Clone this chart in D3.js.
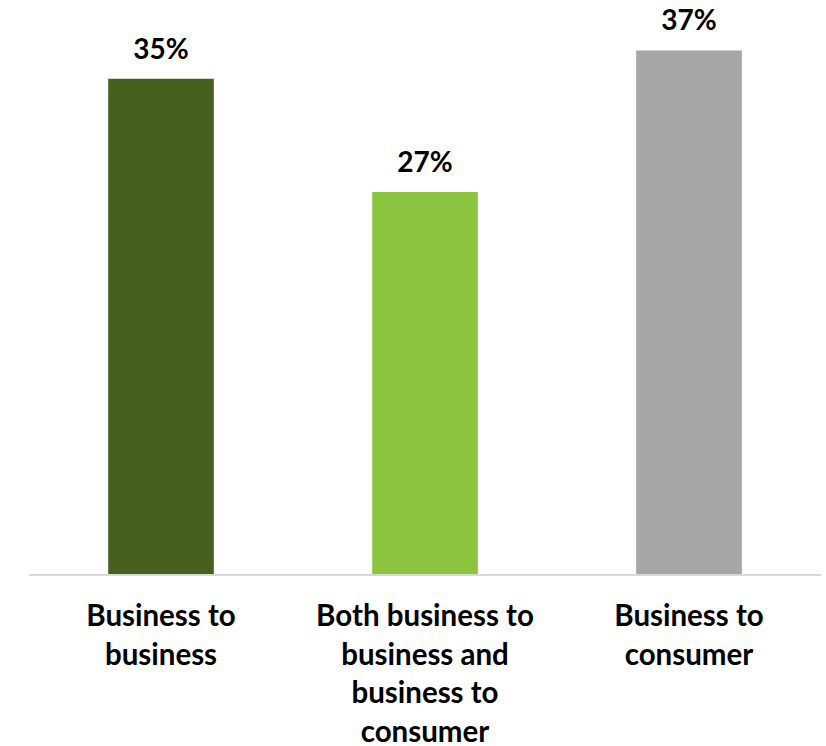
<!DOCTYPE html>
<html>
<head>
<meta charset="utf-8">
<script src="https://cdn.jsdelivr.net/npm/d3@7"></script>
<style>
  html, body { margin: 0; padding: 0; background: #fff; }
  svg { display: block; }
  text { font-family: Lato, "Open Sans", sans-serif; font-weight: 700; fill: #000; }
</style>
</head>
<body>
<svg id="chart" width="826" height="746"></svg>
<script>
// Share of respondents by business model (%)
const categories = [
  ["Business to", "business"],
  ["Both business to", "business and", "business to", "consumer"],
  ["Business to", "consumer"]
];
const values = [35, 27, 37];
const colors = ["#46601f", "#8bc53f", "#a6a6a6"];

const svg = d3.select("#chart");

const x = d3.scaleBand()
  .domain(d3.range(values.length))
  .range([29, 821])
  .paddingInner(0.6)
  .paddingOuter(0.3);

const y = d3.scaleLinear()
  .domain([0, 40])
  .range([574, 8]);

// bars
svg.append("g").selectAll("rect")
  .data(values)
  .join("rect")
  .attr("x", (d, i) => x(i))
  .attr("width", x.bandwidth())
  .attr("y", d => y(d))
  .attr("height", d => y(0) - y(d))
  .attr("fill", (d, i) => colors[i]);

// baseline
svg.append("line")
  .attr("x1", x.range()[0]).attr("x2", x.range()[1])
  .attr("y1", y(0) + 1).attr("y2", y(0) + 1)
  .attr("stroke", "#d9d9d9")
  .attr("stroke-width", 2);

// value labels
svg.append("g").selectAll("text")
  .data(values)
  .join("text")
  .attr("x", (d, i) => x(i) + x.bandwidth() / 2)
  .attr("y", d => y(d) - 20)
  .attr("text-anchor", "middle")
  .style("font-size", "28px")
  .text(d => d + "%");

// category labels
const lab = svg.append("g").selectAll("text")
  .data(categories)
  .join("text")
  .attr("x", (d, i) => x(i) + x.bandwidth() / 2)
  .attr("y", 626)
  .attr("text-anchor", "middle")
  .style("font-size", "29.5px");

lab.selectAll("tspan")
  .data(d => d)
  .join("tspan")
  .attr("x", function () { return d3.select(this.parentNode).attr("x"); })
  .attr("dy", (d, j) => j === 0 ? 0 : 38.5)
  .text(d => d);
</script>
</body>
</html>
